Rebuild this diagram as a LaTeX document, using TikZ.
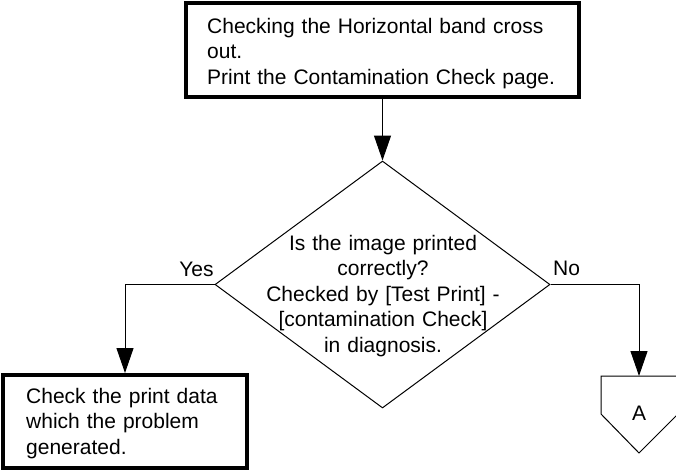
\documentclass[tikz,border=0pt]{standalone}
\usepackage{fontspec}
\setmainfont{Liberation Sans}
\usetikzlibrary{arrows.meta,shapes.geometric}
\begin{document}
\begin{tikzpicture}[x=1pt,y=-1pt,
  txt/.style={font=\fontsize{21}{25.5}\selectfont, inner sep=0pt},
  procbox/.style={draw, line width=4pt, rectangle, inner sep=0pt},
  conn/.style={line width=1pt, -{Triangle[length=25pt,width=17pt]}},
  thin/.style={line width=1pt}]
\useasboundingbox (0,0) rectangle (676,471);
% top process box
\node[procbox, minimum width=393pt, minimum height=94pt] (top) at (382.5,50) {};
\node[txt, text width=370pt, align=left, anchor=base west] (toptxt) at (207,33)
  {Checking the Horizontal band cross\\out.\\Print the Contamination Check page.};
% decision diamond
\node[diamond, draw, thin, minimum width=335pt, minimum height=247pt, inner sep=0pt] (dec) at (382.5,284.5) {};
\node[txt, text width=320pt, align=center, anchor=base] (dectxt) at (383,250)
  {Is the image printed\\correctly?\\Checked by [Test Print] -\\{[}contamination Check{]}\\in diagnosis.};
% yes box
\node[procbox, minimum width=244pt, minimum height=93pt] (chk) at (125,421.5) {};
\node[txt, text width=220pt, align=left, anchor=base west] (chktxt) at (26,403)
  {Check the print data\\which the problem\\generated.};
% off-page connector A
\coordinate (Atop) at (639,376);
\draw[thin] (601,376) -- (678,376) -- (678,414) -- (639,453) -- (601,414) -- cycle;
\node[txt, anchor=base] (A) at (639,420) {A};
% labels
\node[txt, anchor=base] (yes) at (196.5,276) {Yes};
\node[txt, anchor=base] (no) at (566.5,275) {No};
% connectors
\draw[conn] (top.south) -- (dec.north);
\draw[conn] (dec.west) -| (chk.north);
\draw[conn] (dec.east) -| (Atop);
\end{tikzpicture}
\end{document}
